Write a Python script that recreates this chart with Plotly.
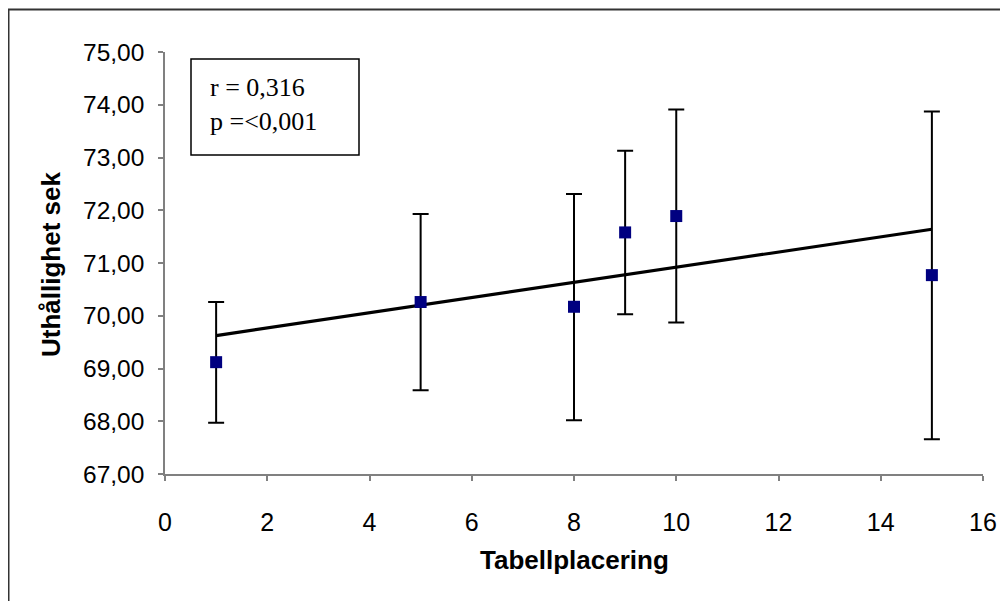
import numpy as np
import plotly.graph_objects as go

# Data
placering = [1, 5, 8, 9, 10, 15]
uthallighet = [69.12, 70.26, 70.17, 71.58, 71.89, 70.77]
sd_plus = [1.14, 1.67, 2.14, 1.55, 2.02, 3.10]
sd_minus = [1.15, 1.67, 2.15, 1.55, 2.02, 3.11]

y_ticks = [67, 68, 69, 70, 71, 72, 73, 74, 75]
x_ticks = [0, 2, 4, 6, 8, 10, 12, 14, 16]

stats_text = "r = 0,316<br>p =<0,001"
x_title = "Tabellplacering"
y_title = "Uthållighet sek"

# Linear trend line (least squares over the means)
slope, intercept = np.polyfit(placering, uthallighet, 1)
trend_x = [min(placering), max(placering)]
trend_y = [slope * v + intercept for v in trend_x]

fig = go.Figure()

fig.add_trace(go.Scatter(
    x=trend_x, y=trend_y, mode="lines",
    line=dict(color="black", width=3.2),
    hoverinfo="skip", showlegend=False,
))

fig.add_trace(go.Scatter(
    x=placering, y=uthallighet, mode="markers",
    marker=dict(symbol="square", size=12, color="#000080"),
    error_y=dict(type="data", symmetric=False, array=sd_plus, arrayminus=sd_minus,
                 color="black", thickness=2, width=8),
    showlegend=False,
))

# page has an 8px body margin; figure occupies page x>=8, y>=8
OFF = 8
W, H = 1008 - OFF, 601 - OFF
L, R, T, B = 165 - OFF, 25, 52 - OFF, 127
pw, ph = W - L - R, H - T - B

def px(xpage):
    return (xpage - OFF - L) / pw

def py(ypage):
    return (H - B - (ypage - OFF)) / ph

axis_font = dict(family="Liberation Sans, Arial, sans-serif", color="black")

fig.update_layout(
    width=W, height=H,
    margin=dict(l=L, r=R, t=T, b=B, pad=0),
    paper_bgcolor="white", plot_bgcolor="white",
    separators=",.",
    showlegend=False,
    xaxis=dict(
        range=[0, 16], tickvals=x_ticks, showgrid=False, zeroline=False,
        showline=True, linecolor="#808080", linewidth=1.5,
        ticks="outside", ticklen=5, tickcolor="#808080", tickwidth=1.5,
        tickfont=dict(size=25, **axis_font), ticklabelstandoff=20,
    ),
    yaxis=dict(
        range=[67, 75], tickvals=y_ticks, tickformat=".2f", showgrid=False, zeroline=False,
        showline=True, linecolor="#808080", linewidth=1.5,
        ticks="outside", ticklen=5, tickcolor="#808080", tickwidth=1.5,
        tickfont=dict(size=24.5, **axis_font), ticklabelstandoff=9,
    ),
    shapes=[
        # outer chart frame
        dict(type="rect", xref="paper", yref="paper",
             x0=px(8.5), x1=px(1015), y0=py(610), y1=py(9.5),
             line=dict(color="#333333", width=2), fillcolor="rgba(0,0,0,0)", layer="below"),
        # stats box
        dict(type="rect", xref="paper", yref="paper",
             x0=px(191), x1=px(359), y0=py(155), y1=py(59),
             line=dict(color="black", width=1.5), fillcolor="white"),
    ],
    annotations=[
        dict(text=stats_text, xref="paper", yref="paper",
             x=px(208), y=py(104), xanchor="left", yanchor="middle",
             align="left", showarrow=False,
             font=dict(family="Liberation Serif, Times New Roman, serif", size=26, color="black")),
        dict(text="<b>" + x_title + "</b>", xref="paper", yref="paper",
             x=0.5, y=py(560), xanchor="center", yanchor="middle", showarrow=False,
             font=dict(size=26, **axis_font)),
        dict(text="<b>" + y_title + "</b>", xref="paper", yref="paper",
             x=px(51), y=py(265), xanchor="center", yanchor="middle", showarrow=False,
             textangle=-90, font=dict(size=26, **axis_font)),
    ],
)

fig.write_html("out.html")
